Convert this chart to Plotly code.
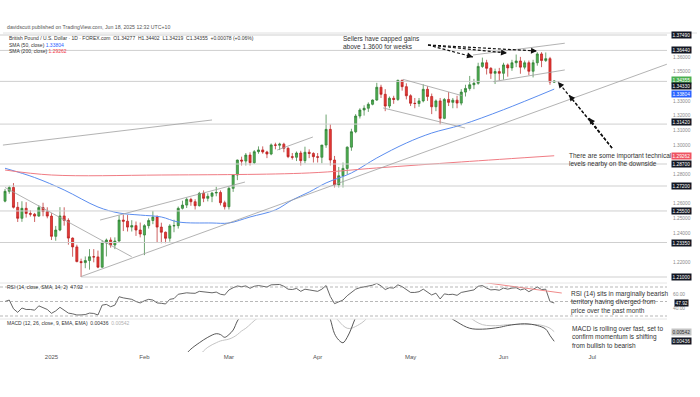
import plotly.graph_objects as go

# ---------------- data ----------------
dates = [
    "2024-12-16", "2024-12-17", "2024-12-18", "2024-12-19", "2024-12-20",
    "2024-12-23", "2024-12-24", "2024-12-26", "2024-12-27", "2024-12-30", "2024-12-31",
    "2025-01-02", "2025-01-03", "2025-01-06", "2025-01-07", "2025-01-08", "2025-01-09", "2025-01-10",
    "2025-01-13", "2025-01-14", "2025-01-15", "2025-01-16", "2025-01-17",
    "2025-01-20", "2025-01-21", "2025-01-22", "2025-01-23", "2025-01-24",
    "2025-01-27", "2025-01-28", "2025-01-29", "2025-01-30", "2025-01-31",
    "2025-02-03", "2025-02-04", "2025-02-05", "2025-02-06", "2025-02-07",
    "2025-02-10", "2025-02-11", "2025-02-12", "2025-02-13", "2025-02-14",
    "2025-02-17", "2025-02-18", "2025-02-19", "2025-02-20", "2025-02-21",
    "2025-02-24", "2025-02-25", "2025-02-26", "2025-02-27", "2025-02-28",
    "2025-03-03", "2025-03-04", "2025-03-05", "2025-03-06", "2025-03-07",
    "2025-03-10", "2025-03-11", "2025-03-12", "2025-03-13", "2025-03-14",
    "2025-03-17", "2025-03-18", "2025-03-19", "2025-03-20", "2025-03-21",
    "2025-03-24", "2025-03-25", "2025-03-26", "2025-03-27", "2025-03-28", "2025-03-31",
    "2025-04-01", "2025-04-02", "2025-04-03", "2025-04-04",
    "2025-04-07", "2025-04-08", "2025-04-09", "2025-04-10", "2025-04-11",
    "2025-04-14", "2025-04-15", "2025-04-16", "2025-04-17", "2025-04-18",
    "2025-04-21", "2025-04-22", "2025-04-23", "2025-04-24", "2025-04-25",
    "2025-04-28", "2025-04-29", "2025-04-30",
    "2025-05-01", "2025-05-02",
    "2025-05-05", "2025-05-06", "2025-05-07", "2025-05-08", "2025-05-09",
    "2025-05-12", "2025-05-13", "2025-05-14", "2025-05-15", "2025-05-16",
    "2025-05-19", "2025-05-20", "2025-05-21", "2025-05-22", "2025-05-23",
    "2025-05-26", "2025-05-27", "2025-05-28", "2025-05-29", "2025-05-30",
    "2025-06-02", "2025-06-03", "2025-06-04", "2025-06-05", "2025-06-06",
    "2025-06-09", "2025-06-10", "2025-06-11", "2025-06-12", "2025-06-13",
    "2025-06-16", "2025-06-17", "2025-06-18",
]
opens = [
    1.2617, 1.2684, 1.2710, 1.2575, 1.2500,
    1.2568, 1.2533, 1.2528, 1.2515, 1.2573, 1.2546,
    1.2515, 1.2377, 1.2420, 1.2516, 1.2486, 1.2365, 1.2305,
    1.2205, 1.2198, 1.2212, 1.2238, 1.2237,
    1.2167, 1.2332, 1.2352, 1.2318, 1.2345,
    1.2488, 1.2480, 1.2440, 1.2450, 1.2420,
    1.2386, 1.2450, 1.2485, 1.2508, 1.2440,
    1.2405, 1.2364, 1.2448, 1.2450, 1.2568,
    1.2590, 1.2629, 1.2613, 1.2586, 1.2670,
    1.2636, 1.2650, 1.2672, 1.2676, 1.2606,
    1.2579, 1.2704, 1.2795, 1.2897, 1.2890,
    1.2931, 1.2879, 1.2954, 1.2966, 1.2952,
    1.2938, 1.3000, 1.2998, 1.3005, 1.2977,
    1.2920, 1.2916, 1.2945, 1.2893, 1.2950, 1.2942,
    1.2920, 1.2916, 1.2999, 1.3106,
    1.2897, 1.2727, 1.2790, 1.2840, 1.2985,
    1.3090, 1.3197, 1.3238, 1.3250, 1.3277,
    1.3306, 1.3393, 1.3345, 1.3265, 1.3318,
    1.3310, 1.3440, 1.3397,
    1.3335, 1.3284,
    1.3282, 1.3300, 1.3379, 1.3330, 1.3260,
    1.3300, 1.3181, 1.3310, 1.3290, 1.3305,
    1.3285, 1.3360, 1.3385, 1.3410, 1.3420,
    1.3535, 1.3560, 1.3522, 1.3488, 1.3500,
    1.3488, 1.3545, 1.3525, 1.3560, 1.3572,
    1.3530, 1.3560, 1.3502, 1.3560, 1.3620,
    1.3575, 1.3588, 1.34277,
]
highs = [
    1.2700, 1.2722, 1.2740, 1.2611, 1.2616,
    1.2610, 1.2555, 1.2537, 1.2589, 1.2606, 1.2575,
    1.2535, 1.2448, 1.2576, 1.2575, 1.2500, 1.2370, 1.2320,
    1.2225, 1.2240, 1.2290, 1.2290, 1.2280,
    1.2350, 1.2362, 1.2370, 1.2370, 1.2520,
    1.2525, 1.2522, 1.2487, 1.2478, 1.2471,
    1.2460, 1.2500, 1.2550, 1.2520, 1.2470,
    1.2410, 1.2460, 1.2490, 1.2580, 1.2620,
    1.2640, 1.2640, 1.2630, 1.2680, 1.2690,
    1.2670, 1.2680, 1.2715, 1.2690, 1.2620,
    1.2715, 1.2800, 1.2900, 1.2920, 1.2945,
    1.2950, 1.2965, 1.2990, 1.2990, 1.2960,
    1.3010, 1.3015, 1.3015, 1.3015, 1.2985,
    1.2945, 1.2955, 1.2960, 1.2988, 1.2970, 1.2950,
    1.2945, 1.3000, 1.3207, 1.3140,
    1.2925, 1.2850, 1.2880, 1.2990, 1.3110,
    1.3210, 1.3250, 1.3270, 1.3290, 1.3310,
    1.3423, 1.3410, 1.3380, 1.3330, 1.3335,
    1.3445, 1.3445, 1.3420,
    1.3345, 1.3320,
    1.3320, 1.3413, 1.3400, 1.3350, 1.3310,
    1.3320, 1.3320, 1.3360, 1.3320, 1.3335,
    1.3380, 1.3410, 1.3470, 1.3450, 1.3560,
    1.3595, 1.3580, 1.3530, 1.3520, 1.3525,
    1.3560, 1.3555, 1.3580, 1.3616, 1.3600,
    1.3575, 1.3575, 1.3580, 1.3632, 1.3632,
    1.3630, 1.3600, 1.34402,
]
lows = [
    1.2609, 1.2667, 1.2567, 1.2475, 1.2476,
    1.2505, 1.2512, 1.2475, 1.2510, 1.2514, 1.2500,
    1.2352, 1.2347, 1.2412, 1.2450, 1.2320, 1.2238, 1.2200,
    1.2100, 1.2160, 1.2150, 1.2200, 1.2160,
    1.2163, 1.2240, 1.2300, 1.2290, 1.2340,
    1.2413, 1.2410, 1.2410, 1.2380, 1.2370,
    1.2249, 1.2430, 1.2460, 1.2333, 1.2330,
    1.2330, 1.2341, 1.2405, 1.2430, 1.2560,
    1.2570, 1.2585, 1.2560, 1.2580, 1.2610,
    1.2615, 1.2610, 1.2650, 1.2588, 1.2560,
    1.2560, 1.2680, 1.2760, 1.2860, 1.2860,
    1.2860, 1.2870, 1.2940, 1.2940, 1.2910,
    1.2930, 1.2970, 1.2965, 1.2950, 1.2910,
    1.2900, 1.2890, 1.2860, 1.2875, 1.2910, 1.2880,
    1.2880, 1.2875, 1.2980, 1.2860,
    1.2710, 1.2710, 1.2710, 1.2800, 1.2960,
    1.3080, 1.3180, 1.3200, 1.3225, 1.3270,
    1.3300, 1.3320, 1.3230, 1.3250, 1.3280,
    1.3300, 1.3370, 1.3310,
    1.3265, 1.3250,
    1.3260, 1.3290, 1.3300, 1.3210, 1.3230,
    1.3140, 1.3175, 1.3265, 1.3250, 1.3250,
    1.3270, 1.3330, 1.3370, 1.3380, 1.3410,
    1.3525, 1.3480, 1.3450, 1.3415, 1.3440,
    1.3445, 1.3465, 1.3505, 1.3530, 1.3485,
    1.3515, 1.3475, 1.3460, 1.3540, 1.3530,
    1.3565, 1.3410, 1.34219,
]
closes = [
    1.2684, 1.2710, 1.2575, 1.2500, 1.2568,
    1.2533, 1.2528, 1.2515, 1.2573, 1.2546, 1.2515,
    1.2377, 1.2420, 1.2516, 1.2486, 1.2365, 1.2305, 1.2205,
    1.2198, 1.2212, 1.2238, 1.2237, 1.2167,
    1.2332, 1.2352, 1.2318, 1.2345, 1.2488,
    1.2480, 1.2440, 1.2450, 1.2420, 1.2393,
    1.2450, 1.2485, 1.2508, 1.2440, 1.2405,
    1.2364, 1.2448, 1.2450, 1.2568, 1.2590,
    1.2629, 1.2613, 1.2586, 1.2670, 1.2636,
    1.2650, 1.2672, 1.2676, 1.2606, 1.2579,
    1.2704, 1.2795, 1.2897, 1.2890, 1.2931,
    1.2879, 1.2954, 1.2966, 1.2952, 1.2938,
    1.3000, 1.2998, 1.3005, 1.2977, 1.2920,
    1.2916, 1.2945, 1.2893, 1.2950, 1.2942, 1.2920,
    1.2916, 1.2999, 1.3106, 1.2897,
    1.2727, 1.2790, 1.2840, 1.2985, 1.3090,
    1.3197, 1.3238, 1.3250, 1.3277, 1.3306,
    1.3393, 1.3345, 1.3265, 1.3318, 1.3310,
    1.3440, 1.3397, 1.3335,
    1.3284, 1.3282,
    1.3300, 1.3379, 1.3330, 1.3260, 1.3300,
    1.3181, 1.3310, 1.3290, 1.3305, 1.3285,
    1.3360, 1.3385, 1.3410, 1.3420, 1.3535,
    1.3560, 1.3522, 1.3488, 1.3500, 1.3488,
    1.3545, 1.3525, 1.3560, 1.3572, 1.3530,
    1.3560, 1.3502, 1.3560, 1.3620, 1.3575,
    1.3588, 1.3428, 1.34355,
]

sma50_dates = ["2024-12-16", "2024-12-26", "2025-01-07", "2025-01-17", "2025-01-24", "2025-01-31",
               "2025-02-07", "2025-02-13", "2025-02-25", "2025-03-03", "2025-03-10", "2025-03-18",
               "2025-03-24", "2025-03-28", "2025-04-03", "2025-04-11", "2025-04-21", "2025-04-30",
               "2025-05-08", "2025-05-19", "2025-06-02", "2025-06-18"]
sma50_vals = [1.2841, 1.2778, 1.2693, 1.2577, 1.2536, 1.2522,
              1.2509, 1.2475, 1.2468, 1.2468, 1.2509, 1.2557,
              1.2625, 1.2679, 1.2741, 1.2809, 1.2911, 1.3013,
              1.3081, 1.3136, 1.3240, 1.33804]

sma200_dates = ["2024-12-16", "2025-01-02", "2025-02-07", "2025-03-28", "2025-04-21", "2025-05-19", "2025-06-18"]
sma200_vals = [1.2829, 1.2795, 1.2795, 1.2809, 1.2843, 1.2884, 1.29262]

rsi_vals = [
    50, 52, 40, 35, 41,
    39, 39, 38, 44, 41, 39,
    33.7, 37, 42, 38, 34, 33, 31.4,
    31.5, 32, 34, 33.5, 31.4,
    45, 46, 42.8, 45, 56.6,
    55, 54, 53, 50, 48,
    51, 53, 52, 48, 47.5,
    46.6, 53, 54, 60, 61.3,
    62, 61.5, 61.3, 64, 63.5,
    62, 62, 63, 60, 59,
    65.9, 69, 71.4, 70.5, 71.5,
    68.2, 71, 72, 71, 70,
    73, 73, 73.5, 71, 67,
    66.5, 68, 64, 67, 66, 64.5,
    64, 67, 72, 57,
    47, 49.5, 52, 58, 63,
    67, 69, 70, 71.5, 72.5,
    75, 71.5, 66.5, 69, 68.5,
    73, 70.5, 66,
    62.5, 62.5,
    63.5, 67, 63.5, 59, 61.5,
    53.5, 60.5, 59.5, 60, 58.5,
    62.5, 64, 65.5, 66, 71,
    72, 68.5, 66, 66.5, 65.5,
    68.5, 67, 68.5, 69, 66,
    67.5, 63.5, 66.5, 70, 66.5,
    67, 50, 47.92,
]

macd_dates = ["2024-12-16", "2025-01-15", "2025-02-03", "2025-02-10", "2025-02-13", "2025-02-17",
              "2025-02-18", "2025-02-20", "2025-02-24", "2025-02-26", "2025-02-27", "2025-02-28",
              "2025-03-03", "2025-03-04", "2025-03-05", "2025-03-06", "2025-03-07", "2025-03-12",
              "2025-03-19", "2025-03-26", "2025-03-31", "2025-04-02", "2025-04-03", "2025-04-04",
              "2025-04-07", "2025-04-08", "2025-04-09", "2025-04-10", "2025-04-11", "2025-04-14",
              "2025-04-16", "2025-04-22", "2025-04-30", "2025-05-07", "2025-05-12", "2025-05-16",
              "2025-05-21", "2025-05-26", "2025-05-30", "2025-06-03", "2025-06-09", "2025-06-12",
              "2025-06-16", "2025-06-17", "2025-06-18"]
macd_vals = [-0.0010, -0.0080, -0.0030, 0.0000, 0.0015, 0.0030,
             0.0035, 0.0042, 0.0048, 0.0052, 0.0051, 0.0048,
             0.0051, 0.0056, 0.0066, 0.0073, 0.0079, 0.0088,
             0.0092, 0.0082, 0.0074, 0.0072, 0.0080, 0.0068,
             0.0052, 0.0045, 0.0042, 0.0048, 0.0058, 0.0070,
             0.0085, 0.0110, 0.0115, 0.0095, 0.0078, 0.0065,
             0.0058, 0.0057, 0.0059, 0.0061, 0.0063, 0.0061,
             0.0057, 0.0050, 0.00436]
signal_vals = [0.0010, -0.0060, -0.0050, -0.0020, -0.0005, 0.0010,
               0.0016, 0.0028, 0.0037, 0.0042, 0.0044, 0.0045,
               0.0046, 0.0048, 0.0051, 0.0055, 0.0058, 0.0070,
               0.0082, 0.0085, 0.0081, 0.0078, 0.0078, 0.0076,
               0.0071, 0.0066, 0.0061, 0.0058, 0.0058, 0.0060,
               0.0066, 0.0088, 0.0108, 0.0105, 0.0095, 0.0082,
               0.0070, 0.0062, 0.0061, 0.0062, 0.0062, 0.0062,
               0.0060, 0.0058, 0.00542]

# horizontal levels: (price, start date or None for full width)
level_prices = [1.37490, 1.36440, 1.34330, 1.31420, 1.28700, 1.27200, 1.25500, 1.23350, 1.21000]
level_starts = [None, None, None, None, None, None, None, None, "2025-01-13"]

# price-axis ticks left visible beside the level labels
price_ticks = [1.22, 1.24, 1.25, 1.26, 1.28, 1.30, 1.31, 1.32, 1.33, 1.35, 1.36]

# trend lines: (date0, price0, date1, price1)
trendlines = [
    ("2024-12-13 12:00", 1.2999, "2025-02-25", 1.3170),
    ("2024-12-16", 1.2710, "2025-01-29", 1.2238),
    ("2025-01-13", 1.2103, "2025-07-24 16:00", 1.3550),
    ("2025-01-17 12:00", 1.2488, "2025-03-06 19:00", 1.2747),
    ("2025-03-18 10:00", 1.2965, "2025-03-28 21:00", 1.3054),
    ("2025-04-29 05:00", 1.3447, "2025-05-19 06:00", 1.3335),
    ("2025-04-22 12:00", 1.3252, "2025-05-19 22:00", 1.3115),
    ("2025-05-21 19:00", 1.3613, "2025-06-20 12:00", 1.3693),
    ("2025-05-28 14:00", 1.3431, "2025-06-20 12:00", 1.3511),
]
rsi_div = ("2025-05-23 10:00", 76.9, "2025-06-19 19:00", 61.7)

x_tickvals = ["2025-01-02", "2025-02-03", "2025-03-03", "2025-04-01", "2025-05-01", "2025-06-02", "2025-07-01"]
x_ticktext = ["2025", "Feb", "Mar", "Apr", "May", "Jun", "Jul"]

# ---------------- layout geometry ----------------
W, H = 700, 397
ML, MR, MT, MB = 0, 33, 33, 45
PW, PH = W - ML - MR, H - MT - MB


def px(x):
    return (x - ML) / PW


def py(y):
    return (H - MB - y) / PH


FONT = "Liberation Sans, Arial, sans-serif"
GREEN, RED, BLUE, PINK = "#4caf50", "#e53935", "#2962ff", "#f07c84"

fig = go.Figure()

fig.add_trace(go.Candlestick(
    x=dates, open=opens, high=highs, low=lows, close=closes,
    xaxis="x", yaxis="y",
    increasing=dict(line=dict(color="#2e7d32", width=0.7), fillcolor=GREEN),
    decreasing=dict(line=dict(color="#b71c1c", width=0.7), fillcolor=RED),
    whiskerwidth=0, showlegend=False, hoverinfo="skip"))

fig.add_trace(go.Scatter(x=sma50_dates, y=sma50_vals, mode="lines", line=dict(color="#5b8def", width=1, shape="spline"),
                         xaxis="x", yaxis="y", showlegend=False, hoverinfo="skip"))
fig.add_trace(go.Scatter(x=sma200_dates, y=sma200_vals, mode="lines", line=dict(color=PINK, width=1, shape="spline"),
                         xaxis="x", yaxis="y", showlegend=False, hoverinfo="skip"))

fig.add_trace(go.Scatter(x=dates, y=rsi_vals, mode="lines", line=dict(color="#555555", width=0.9),
                         xaxis="x", yaxis="y2", showlegend=False, hoverinfo="skip"))

fig.add_trace(go.Scatter(x=macd_dates, y=signal_vals, mode="lines", line=dict(color="#bdbdbd", width=0.9, shape="spline"),
                         xaxis="x", yaxis="y3", showlegend=False, hoverinfo="skip"))
fig.add_trace(go.Scatter(x=macd_dates, y=macd_vals, mode="lines", line=dict(color="#444444", width=0.9, shape="spline"),
                         xaxis="x", yaxis="y3", showlegend=False, hoverinfo="skip"))

shapes = []
X_RIGHT = "2025-07-24 16:48"
for p, s in zip(level_prices, level_starts):
    if s is None:
        shapes.append(dict(type="line", xref="paper", yref="y", x0=0, x1=1, y0=p, y1=p,
                           line=dict(color="#cfcfcf", width=1)))
    else:
        shapes.append(dict(type="line", xref="x", yref="y", x0=s, x1=X_RIGHT, y0=p, y1=p,
                           line=dict(color="#cfcfcf", width=1)))
for d0, p0, d1, p1 in trendlines:
    shapes.append(dict(type="line", xref="x", yref="y", x0=d0, y0=p0, x1=d1, y1=p1,
                       line=dict(color="#a0a0a0", width=0.8)))
shapes.append(dict(type="line", xref="x", yref="y2", x0=rsi_div[0], y0=rsi_div[1], x1=rsi_div[2], y1=rsi_div[3],
                   line=dict(color="#f08a8a", width=1)))
for lvl in (70, 50, 30):
    shapes.append(dict(type="line", xref="paper", yref="y2", x0=0, x1=1, y0=lvl, y1=lvl,
                       line=dict(color="#9a9a9a", width=0.7, dash="3px,2px")))
# pane separators / frame
for yy in (283, 319):
    shapes.append(dict(type="line", xref="paper", yref="paper", x0=0, x1=1, y0=py(yy), y1=py(yy),
                       line=dict(color="#e6e6e6", width=1)))
shapes.append(dict(type="line", xref="paper", yref="paper", x0=px(3), x1=px(697), y0=py(33), y1=py(33),
                   line=dict(color="#e0e0e0", width=1)))

annotations = []

# dashed arrows (pixel geometry)
arrows = [
    ((428, 45), (473, 57)), ((428, 45), (507, 53)), ((428, 45), (537, 51)),
    ((612, 148), (558, 82)), ((612, 148), (569, 95)), ((612, 148), (589, 118)),
]
for (sx, sy), (tx, ty) in arrows:
    shapes.append(dict(type="line", xref="paper", yref="paper", x0=px(sx), y0=py(sy), x1=px(tx), y1=py(ty),
                       line=dict(color="#111111", width=1.2, dash="3px,2px")))
    dx, dy = sx - tx, sy - ty
    n = (dx * dx + dy * dy) ** 0.5
    annotations.append(dict(xref="paper", yref="paper", x=px(tx), y=py(ty), ax=dx / n * 6, ay=dy / n * 6,
                            showarrow=True, arrowhead=2, arrowsize=1, arrowwidth=1.2, arrowcolor="#111111", text=""))


def txt(x, y, s, size=6.5, color="#333333", xanchor="left"):
    annotations.append(dict(xref="paper", yref="paper", x=px(x), y=py(y), text=s, showarrow=False,
                            xanchor=xanchor, yanchor="middle", align="left",
                            font=dict(family=FONT, size=size, color=color)))


txt(5, 27, "davidscutt published on TradingView.com, Jun 18, 2025 12:32 UTC+10", size=5.2, color="#555555")
txt(7, 37.5, "British Pound / U.S. Dollar · 1D · FOREX.com  O1.34277  H1.34402  L1.34219  C1.34355  +0.00078 (+0.06%)",
    size=5, color="#333333")
txt(7, 44.5, "SMA (50, close) <span style='color:#2962ff'>1.33804</span>", size=5, color="#333333")
txt(7, 51, "SMA (200, close) <span style='color:#f23645'>1.29262</span>", size=5, color="#333333")
txt(5, 287, "RSI (14, close, SMA, 14, 2)  47.92", size=5, color="#333333")
txt(5, 323, "MACD (12, 26, close, 9, EMA, EMA)  0.00436  <span style='color:#b0b0b0'>0.00542</span>", size=5,
    color="#333333")

txt(341, 42.5, "Sellers have capped gains<br>above 1.3600 for weeks")
txt(567, 160, "There are some important technical<br>levels nearby on the downside")
txt(569, 302.7, "RSI (14) sits in marginally bearish<br>territory having diverged from<br>price over the past month")
txt(570, 337.3, "MACD is rolling over fast, set to<br>confirm momentum is shifting<br>from bullish to bearish")


def box(yref, val, s, bg, fg="#ffffff", yshift=0):
    annotations.append(dict(xref="paper", yref=yref, x=px(681), y=val, yshift=yshift, text=s, showarrow=False,
                            xanchor="center", yanchor="middle", bgcolor=bg, borderpad=0.5,
                            font=dict(family=FONT, size=4.8, color=fg)))


box("y", 1.37490, "1.37490", "#131722")
box("y", 1.36440, "1.36440", "#131722")
box("y", 1.34355, "1.34355", GREEN, yshift=1.5)
box("y", 1.34330, "1.34330", "#131722", yshift=-5)
box("y", 1.33804, "1.33804", BLUE, yshift=-4.5)
box("y", 1.31420, "1.31420", "#131722", yshift=2.5)
box("y", 1.29262, "1.29262", "#ef5361")
box("y", 1.28700, "1.28700", "#131722")
box("y", 1.27200, "1.27200", "#131722")
box("y", 1.25500, "1.25500", "#131722")
box("y", 1.23350, "1.23350", "#131722")
box("y", 1.21000, "1.21000", "#131722")
box("y2", 47.92, "47.92", "#131722")
box("y3", 0.00542, "0.00542", "#c4c4c4", fg="#333333")
box("y3", 0.00436, "0.00436", "#131722")

yax_common = dict(side="right", showgrid=False, zeroline=False, showline=False, ticks="",
                  tickfont=dict(family=FONT, size=4.8, color="#8a8a8a"), ticklabelstandoff=5, fixedrange=True)

fig.update_layout(
    width=W, height=H, margin=dict(l=ML, r=MR, t=MT, b=MB),
    paper_bgcolor="white", plot_bgcolor="white",
    showlegend=False,
    xaxis=dict(type="date", anchor="y3", range=["2024-12-12 19:26", X_RIGHT],
               rangebreaks=[dict(bounds=["sat", "mon"]), dict(values=["2024-12-25", "2025-01-01"])],
               rangeslider=dict(visible=False), showgrid=False, zeroline=False, showline=False, ticks="",
               tickvals=x_tickvals, ticktext=x_ticktext, fixedrange=True,
               tickfont=dict(family=FONT, size=6, color="#555555")),
    yaxis=dict(domain=[py(283), 1], range=[1.20591, 1.37627], tickvals=price_ticks, tickformat=".5f",
               **yax_common),
    yaxis2=dict(domain=[py(319), py(283)], range=[25.86, 75.52], tickvals=[40, 60], tickformat=".2f",
                **yax_common),
    yaxis3=dict(domain=[0, py(319)], range=[0.003178, 0.006822], tickvals=[], **yax_common),
    shapes=shapes,
    annotations=annotations,
)

fig.write_html("out.html", config={"displayModeBar": False, "staticPlot": True},
               post_script="document.body.style.margin='0';document.body.style.padding='0';")
